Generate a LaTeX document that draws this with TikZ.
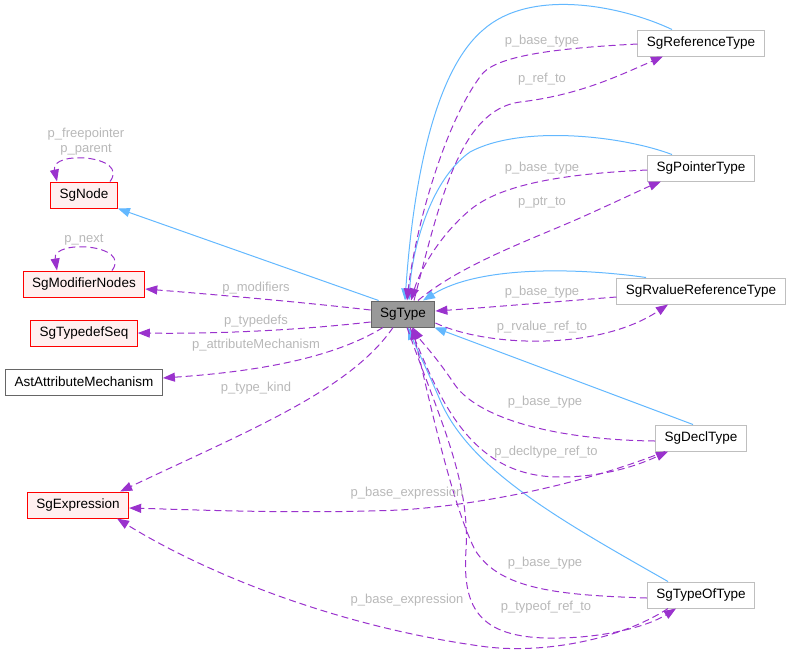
\documentclass[tikz,border=0pt]{standalone}
\usepackage{fontspec}
\setmainfont{Liberation Sans}
\usetikzlibrary{arrows.meta}

\definecolor{inhblue}{HTML}{63B8FF}
\definecolor{mempurple}{HTML}{9A32CD}
\definecolor{lblgray}{HTML}{B8B8B8}
\definecolor{redfill}{HTML}{FFF0F0}
\definecolor{grey75}{HTML}{BFBFBF}
\definecolor{grey40}{HTML}{666666}
\definecolor{grey60}{HTML}{999999}

\tikzset{
  clsbox/.style={draw, line width=1pt, minimum height=26pt, inner xsep=9pt, inner ysep=0pt,
    font=\fontsize{13.5}{16}\selectfont},
  rednode/.style={clsbox, draw=red, fill=redfill},
  plainnode/.style={clsbox, draw=grey75, fill=white},
  darknode/.style={clsbox, draw=grey40, fill=white},
  curnode/.style={clsbox, draw=grey40, fill=grey60},
  inherit/.style={-{Triangle[length=12pt,width=9pt]}, draw=inhblue, line width=1pt},
  member/.style={-{Triangle[length=12pt,width=9pt]}, draw=mempurple, line width=1pt,
    dash pattern=on 7pt off 4pt},
  lbl/.style={text=lblgray, inner sep=0pt, font=\fontsize{13}{15}\selectfont}
}

\begin{document}
\begin{tikzpicture}[x=1pt,y=-1pt]
  \useasboundingbox (0,0) rectangle (791,656);

  \node[rednode] (sgnode) at (84,195) {SgNode};
  \node[rednode] (modn) at (84,284) {SgModifierNodes};
  \node[rednode] (tdef) at (84,333) {SgTypedefSeq};
  \node[darknode] (attr) at (84,382) {AstAttributeMechanism};
  \node[rednode] (expr) at (78,505) {SgExpression};
  \node[curnode] (type) at (403,314) {SgType};
  \node[plainnode] (ref) at (701,43) {SgReferenceType};
  \node[plainnode] (ptr) at (701,168) {SgPointerType};
  \node[plainnode] (rval) at (701,291) {SgRvalueReferenceType};
  \node[plainnode] (decl) at (701,438) {SgDeclType};
  \node[plainnode] (tof) at (701,595) {SgTypeOfType};

  % inheritance
  \draw[inherit] ([xshift=8]type.north west) -- (sgnode.south east);
  \draw[inherit] ([xshift=-29]ref.north) .. controls (620,5) and (530,-12) .. (483,30)
    .. controls (430,75) and (412,200) .. ([xshift=2]type.north);
  \draw[inherit] ([xshift=-29]ptr.north) .. controls (620,135) and (520,125) .. (470,152)
    .. controls (430,180) and (412,250) .. ([xshift=6]type.north);
  \draw[inherit] ([xshift=-55]rval.north) .. controls (580,268) and (480,265) .. ([xshift=20]type.north);
  \draw[inherit] ([xshift=-8]decl.north) -- ([xshift=-1]type.south east);
  \draw[inherit] ([xshift=-33]tof.north) .. controls (560,520) and (470,470) .. (440,400)
    .. controls (425,365) and (415,345) .. ([xshift=5]type.south);

  % members
  \draw[member] ([xshift=26]sgnode.north) .. controls (130,155) and (50,150) .. ([xshift=-27]sgnode.north);
  \draw[member] ([xshift=28]modn.north) .. controls (132,244) and (52,239) .. ([xshift=-27]modn.north);
  \draw[member] ([yshift=4]type.west) .. controls (300,302) and (220,295) .. ([yshift=-5]modn.east);
  \draw[member] ([yshift=-8]type.west) .. controls (300,330) and (220,334) .. (tdef.east);
  \draw[member] ([xshift=-20]type.south) .. controls (330,360) and (250,372) .. ([yshift=4]attr.east);
  \draw[member] ([xshift=-10]type.south) .. controls (350,390) and (250,430) .. ([xshift=-9]expr.north east);

  \draw[member] ([yshift=-1]ref.west) .. controls (560,48) and (500,55) .. (483,73)
    .. controls (445,120) and (415,230) .. ([xshift=4]type.north);
  \draw[member] ([xshift=11]type.north) .. controls (440,200) and (460,110) .. (520,102)
    .. controls (580,95) and (620,75) .. ([xshift=-38]ref.south);
  \draw[member] ([yshift=-2]ptr.west) .. controls (560,174) and (500,185) .. (470,210)
    .. controls (440,235) and (420,270) .. ([xshift=8]type.north);
  \draw[member] ([xshift=15]type.north) .. controls (460,265) and (530,240) .. (580,218)
    .. controls (620,200) and (645,188) .. ([xshift=-40]ptr.south);
  \draw[member] ([yshift=-6]rval.west) .. controls (540,303) and (480,308) .. ([yshift=3]type.east);
  \draw[member] ([yshift=-9]type.east) .. controls (490,348) and (600,350) .. ([xshift=-33]rval.south);

  \draw[member] ([yshift=-3]decl.west) .. controls (560,440) and (480,420) .. (455,385)
    .. controls (435,355) and (420,340) .. ([xshift=10]type.south);
  \draw[member] ([xshift=7]type.south) .. controls (440,400) and (470,477) .. (560,477)
    .. controls (610,477) and (645,462) .. ([xshift=-33]decl.south);
  \draw[member] ([xshift=-36]decl.south) .. controls (580,485) and (480,505) .. (400,510)
    .. controls (300,514) and (200,510) .. ([yshift=-3]expr.east);

  \draw[member] ([yshift=-3]tof.west) .. controls (560,595) and (500,590) .. (475,550)
    .. controls (450,500) and (425,380) .. ([xshift=9]type.south);
  \draw[member] ([xshift=4]type.south) .. controls (440,420) and (470,480) .. (466,550)
    .. controls (462,610) and (480,640) .. (560,638) .. controls (610,637) and (650,625) .. ([xshift=-25]tof.south);
  \draw[member] ([xshift=-33]tof.south) .. controls (620,640) and (540,655) .. (480,646)
    .. controls (330,625) and (200,570) .. ([xshift=39]expr.south);

  % labels
  \node[lbl] (lfree) at (86,134) {p\_freepointer};
  \node[lbl] (lparent) at (86,150) {p\_parent};
  \node[lbl] (lnext) at (84,240) {p\_next};
  \node[lbl] (lmod) at (256,288) {p\_modifiers};
  \node[lbl] (ltdef) at (256,321) {p\_typedefs};
  \node[lbl] (lattr) at (256,345) {p\_attributeMechanism};
  \node[lbl] (lkind) at (256,388) {p\_type\_kind};
  \node[lbl] (lrefbase) at (542,41) {p\_base\_type};
  \node[lbl] (lrefto) at (542,79) {p\_ref\_to};
  \node[lbl] (lptrbase) at (542,168) {p\_base\_type};
  \node[lbl] (lptrto) at (542,203) {p\_ptr\_to};
  \node[lbl] (lrvalbase) at (542,292) {p\_base\_type};
  \node[lbl] (lrvalto) at (542,327) {p\_rvalue\_ref\_to};
  \node[lbl] (ldeclbase) at (545,402) {p\_base\_type};
  \node[lbl] (ldeclto) at (546,452) {p\_decltype\_ref\_to};
  \node[lbl] (ldeclexpr) at (407,493) {p\_base\_expression};
  \node[lbl] (ltofbase) at (545,563) {p\_base\_type};
  \node[lbl] (ltofto) at (546,607) {p\_typeof\_ref\_to};
  \node[lbl] (ltofexpr) at (407,600) {p\_base\_expression};

\end{tikzpicture}
\end{document}
